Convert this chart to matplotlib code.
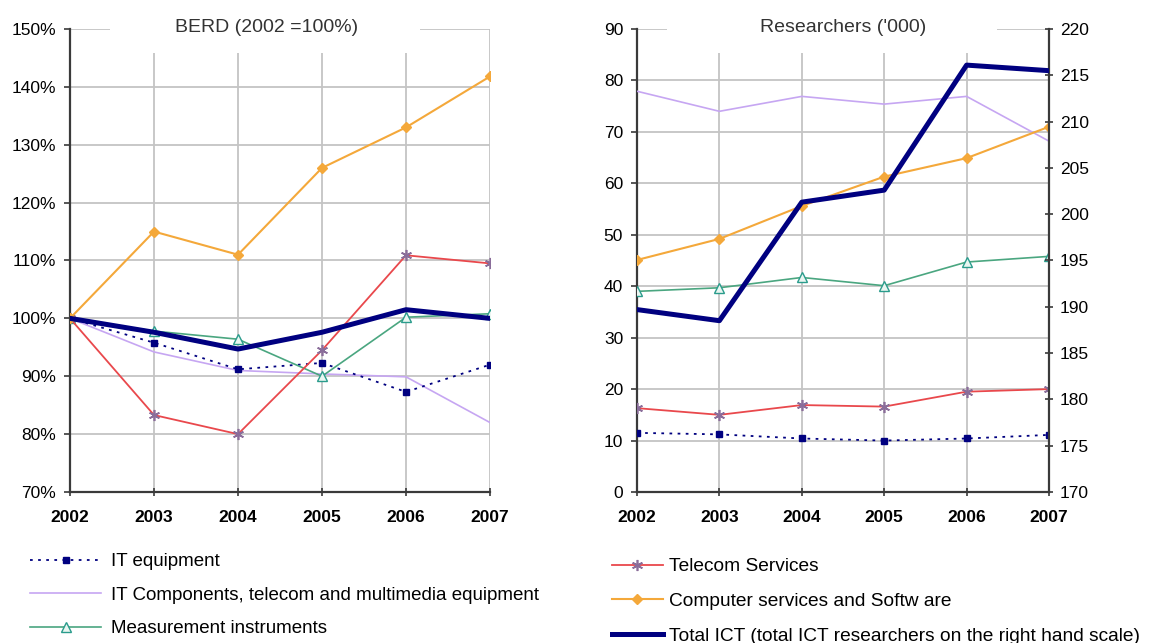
import matplotlib
matplotlib.use("Agg")
from matplotlib import pyplot as plt
from matplotlib.patches import Rectangle
from matplotlib.lines import Line2D
from matplotlib.ticker import FuncFormatter

plt.rcParams['font.family'] = ['Liberation Sans', 'DejaVu Sans']

years = [2002, 2003, 2004, 2005, 2006, 2007]

# BERD index, 2002 = 100%
berd_it_equipment = [100, 95.8, 91.2, 92.3, 87.3, 92.0]
berd_it_components = [100, 94.2, 91.0, 90.4, 89.9, 82.0]
berd_measurement = [100, 97.8, 96.4, 90.0, 100.2, 100.8]
berd_telecom = [100, 83.3, 80.0, 94.5, 110.9, 109.5]
berd_computer = [100, 115.0, 111.0, 126.0, 133.0, 141.8]
berd_total = [100, 97.6, 94.7, 97.6, 101.5, 100.0]

# researchers ('000)
res_it_equipment = [11.5, 11.2, 10.4, 10.0, 10.4, 11.1]
res_it_components = [77.9, 74.0, 76.9, 75.4, 76.9, 68.2]
res_measurement = [39.0, 39.7, 41.7, 40.1, 44.7, 45.8]
res_telecom = [16.3, 15.0, 16.9, 16.6, 19.5, 20.0]
res_computer = [45.1, 49.2, 55.6, 61.3, 64.9, 71.0]
res_total = [189.7, 188.5, 201.3, 202.6, 216.1, 215.5]

navy = '#000080'
lavender = '#c6a6f2'
green = '#4aa680'
red = '#e9484c'
orange = '#f4a83a'
grid_c = '#c4c4c4'
spine_c = '#3a3a3a'

styles = {
    'itq': dict(color=navy, lw=1.3, ls=(0, (1.5, 3)), marker='s', ms=4, mfc=navy, mec=navy),
    'itc': dict(color=lavender, lw=1.2),
    'mes': dict(color=green, lw=1.2, marker='^', ms=7, mfc='#eaf6f1', mec='#2a9c8c'),
    'tel': dict(color=red, lw=1.3, marker=(6, 2, 0), ms=8, mec='#8a6d9a', mew=1.2),
    'cmp': dict(color=orange, lw=1.5, marker='D', ms=5, mfc=orange, mec=orange),
    'tot': dict(color=navy, lw=3.6),
}

fig = plt.figure(figsize=(11.56, 6.43), dpi=100)
W, H = 1156, 643


def style_axes(ax, x0, x1):
    ax.set_xlim(2002, 2007)
    ax.set_xticks(years)
    ax.set_xticklabels([str(y) for y in years], fontweight='bold', fontsize=12.5)
    ax.grid(True, color=grid_c, lw=1.3, zorder=0)
    ax.set_axisbelow(True)
    for s in ['top', 'right']:
        ax.spines[s].set_visible(False)
    for s in ['left', 'bottom']:
        ax.spines[s].set_color(spine_c)
        ax.spines[s].set_linewidth(1.6)
    ax.tick_params(axis='x', direction='inout', length=6, width=1.2, color=spine_c, pad=10)
    ax.tick_params(axis='y', direction='out', length=4, width=1.2, color=spine_c, pad=6,
                   labelsize=12.5)
    # white box behind the title, hiding the grid
    ax.add_patch(Rectangle((x0, 0.948), x1 - x0, 0.08, transform=ax.transAxes,
                           facecolor='white', edgecolor='none', zorder=1, clip_on=False))


# left panel
ax1 = fig.add_axes([70 / W, 1 - 492 / H, 420 / W, 463 / H])
ax1.set_ylim(70, 150)
ax1.set_yticks(range(70, 151, 10))
ax1.yaxis.set_major_formatter(FuncFormatter(lambda v, p: f'{v:.0f}%'))
style_axes(ax1, 0.095, 0.833)
ax1.plot(years, berd_it_components, zorder=3, **styles['itc'])
ax1.plot(years, berd_it_equipment, zorder=4, **styles['itq'])
ax1.plot(years, berd_measurement, zorder=4, **styles['mes'])
ax1.plot(years, berd_telecom, zorder=4, **styles['tel'])
ax1.plot(years, berd_computer, zorder=4, **styles['cmp'])
ax1.plot(years, berd_total, zorder=5, **styles['tot'])
ax1.text(0.468, 1.003, 'BERD (2002 =100%)', transform=ax1.transAxes, ha='center',
         va='center', fontsize=14, color='#333333', zorder=6)

# right panel
ax2 = fig.add_axes([637 / W, 1 - 492 / H, 412 / W, 463 / H])
ax2.set_ylim(0, 90)
ax2.set_yticks(range(0, 91, 10))
style_axes(ax2, 0.073, 0.874)
ax2.plot(years, res_it_components, zorder=3, **styles['itc'])
ax2.plot(years, res_it_equipment, zorder=4, **styles['itq'])
ax2.plot(years, res_measurement, zorder=4, **styles['mes'])
ax2.plot(years, res_telecom, zorder=4, **styles['tel'])
ax2.plot(years, res_computer, zorder=4, **styles['cmp'])
ax2.text(0.5, 1.003, "Researchers ('000)", transform=ax2.transAxes, ha='center',
         va='center', fontsize=14, color='#333333', zorder=6)

ax3 = ax2.twinx()
ax3.set_ylim(170, 220)
ax3.set_yticks(range(170, 221, 5))
for s in ['top', 'left', 'bottom']:
    ax3.spines[s].set_visible(False)
ax3.spines['right'].set_color(spine_c)
ax3.spines['right'].set_linewidth(1.6)
ax3.tick_params(axis='y', direction='inout', length=6, width=1.2, color=spine_c,
                pad=5, labelsize=12.5)
ax3.plot(years, res_total, zorder=5, **styles['tot'])

# legends
def handle(key):
    return Line2D([], [], **styles[key])

leg1 = fig.legend([handle('itq'), handle('itc'), handle('mes')],
                  ['IT equipment', 'IT Components, telecom and multimedia equipment',
                   'Measurement instruments'],
                  loc='upper left', bbox_to_anchor=(30 / W, 1 - 553 / H),
                  frameon=False, fontsize=13.5, handlelength=3.8, handletextpad=0.5,
                  labelspacing=0.88, borderpad=0, borderaxespad=0)
leg2 = fig.legend([handle('tel'), handle('cmp'), handle('tot')],
                  ['Telecom Services', 'Computer services and Softw are',
                   'Total ICT (total ICT researchers on the right hand scale)'],
                  loc='upper left', bbox_to_anchor=(612 / W, 1 - 558 / H),
                  frameon=False, fontsize=13.8, handlelength=2.65, handletextpad=0.3,
                  labelspacing=0.9, borderpad=0, borderaxespad=0)

fig.savefig('out.png', dpi=100)
